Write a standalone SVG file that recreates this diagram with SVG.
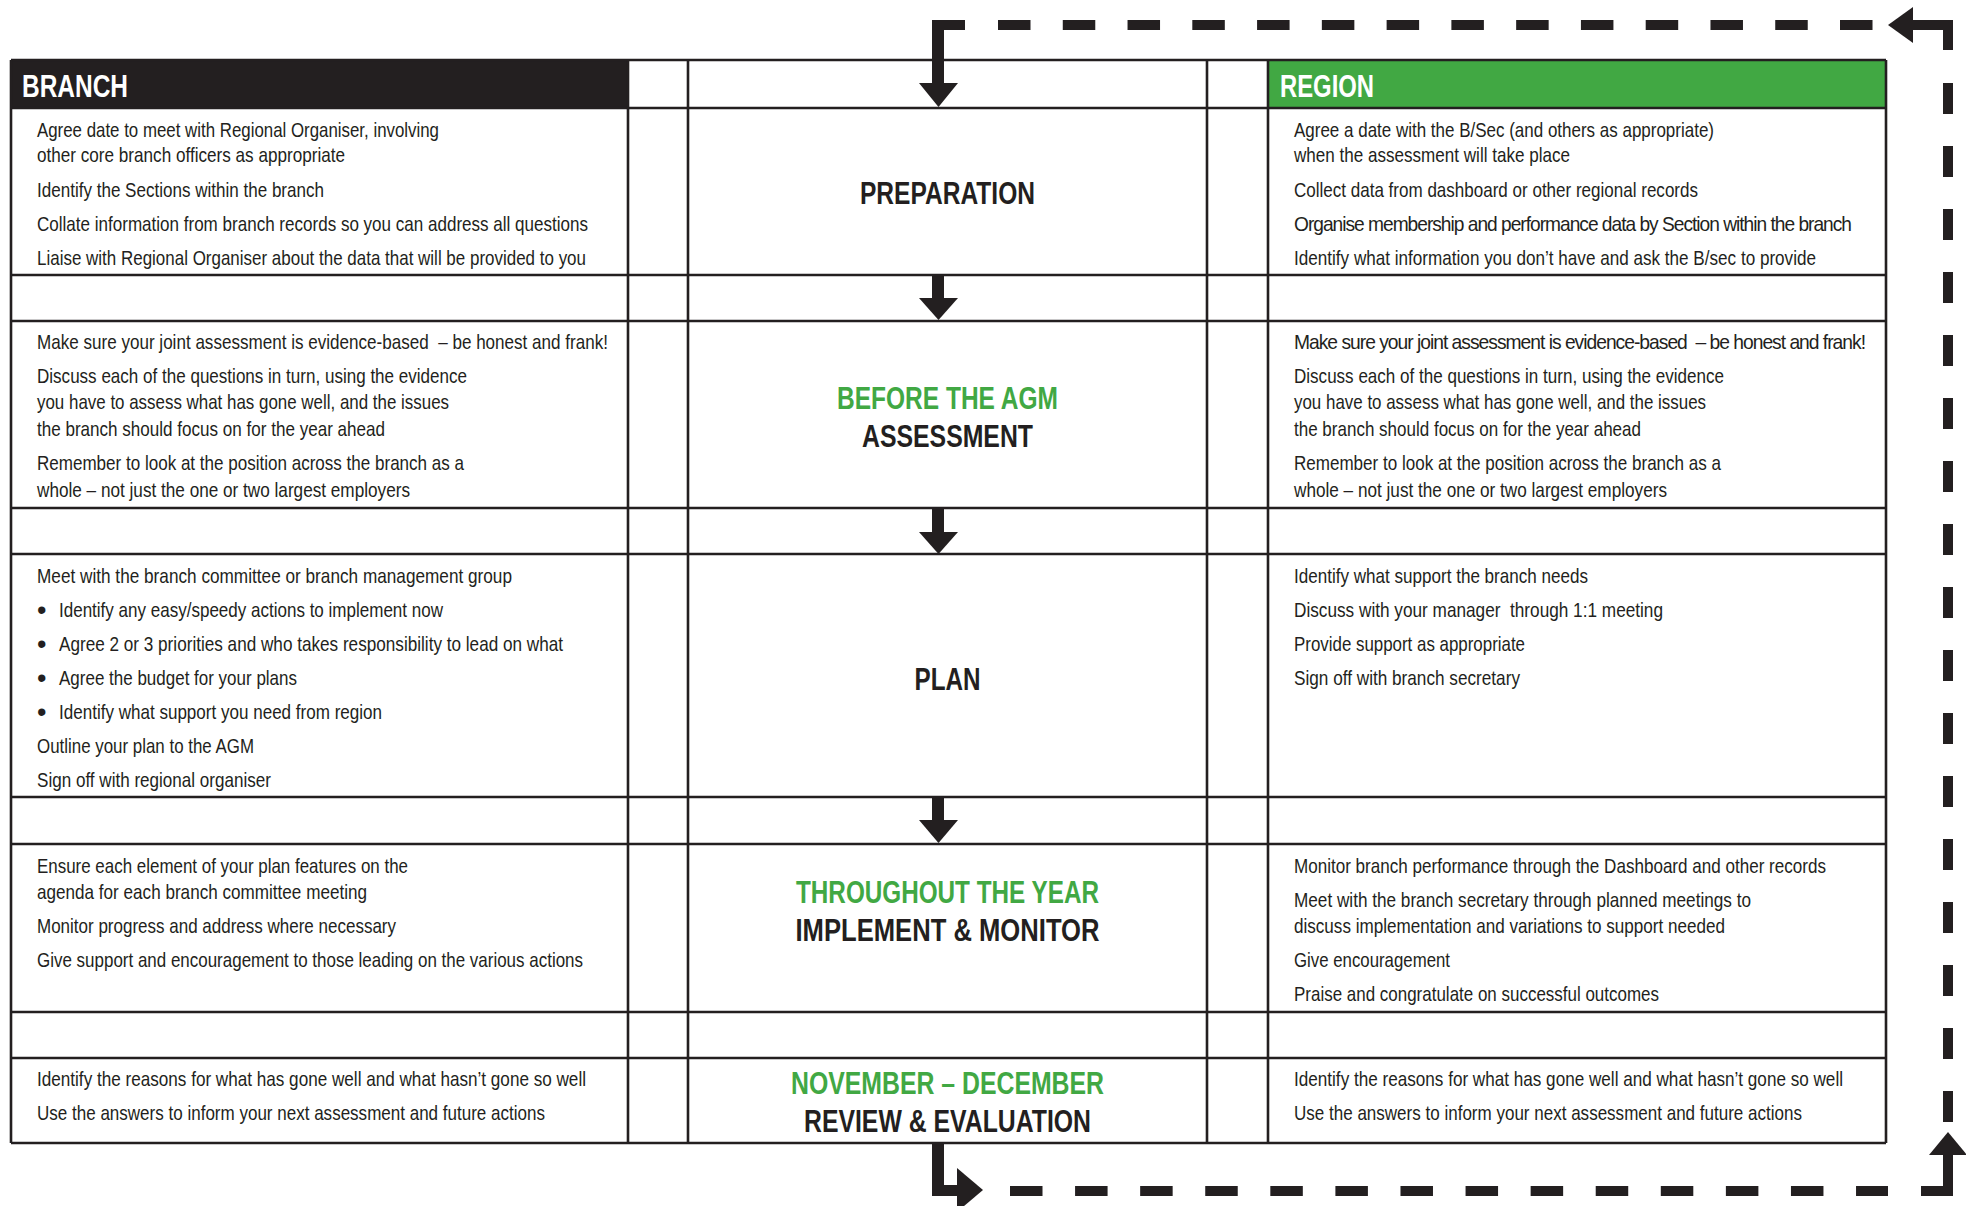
<svg xmlns="http://www.w3.org/2000/svg" width="1966" height="1206" viewBox="0 0 1966 1206">
<style>
.b{font-family:"Liberation Sans",Arial,sans-serif;font-size:21px;fill:#231f20}
.n{letter-spacing:-1.1px}
.u{font-family:"Liberation Sans",Arial,sans-serif;font-size:27px;fill:#231f20}
.t{font-family:"Liberation Sans",Arial,sans-serif;font-size:31px;font-weight:bold;fill:#231f20;text-anchor:middle}
.g{fill:#41a843}
.h{font-family:"Liberation Sans",Arial,sans-serif;font-size:32px;font-weight:bold;fill:#ffffff}
.grid line{stroke:#231f20;stroke-width:2.6}
.dash{stroke:#231f20;stroke-width:10;fill:none}
.ar{fill:#231f20}
</style>
<rect width="1966" height="1206" fill="#ffffff"/>

<g id="header-branch">
<rect x="11" y="60" width="617" height="48" fill="#231f20"/>
<text class="h" x="22" y="97" textLength="106" lengthAdjust="spacingAndGlyphs">BRANCH</text>
</g>
<g id="header-region">
<rect x="1268" y="60" width="618" height="48" fill="#41a843"/>
<text class="h" x="1280" y="97" textLength="94" lengthAdjust="spacingAndGlyphs">REGION</text>
</g>

<g id="grid" class="grid">
<line x1="11" y1="60" x2="1886" y2="60"/>
<line x1="11" y1="108" x2="1886" y2="108"/>
<line x1="11" y1="275" x2="1886" y2="275"/>
<line x1="11" y1="321" x2="1886" y2="321"/>
<line x1="11" y1="508" x2="1886" y2="508"/>
<line x1="11" y1="554" x2="1886" y2="554"/>
<line x1="11" y1="797" x2="1886" y2="797"/>
<line x1="11" y1="844" x2="1886" y2="844"/>
<line x1="11" y1="1012" x2="1886" y2="1012"/>
<line x1="11" y1="1058" x2="1886" y2="1058"/>
<line x1="11" y1="1143" x2="1886" y2="1143"/>
<line x1="11" y1="60" x2="11" y2="1143"/>
<line x1="628" y1="60" x2="628" y2="1143"/>
<line x1="688" y1="60" x2="688" y2="1143"/>
<line x1="1207" y1="60" x2="1207" y2="1143"/>
<line x1="1268" y1="60" x2="1268" y2="1143"/>
<line x1="1886" y1="60" x2="1886" y2="1143"/>
</g>

<g id="prep-branch">
<text class="b" x="37" y="137" textLength="402" lengthAdjust="spacingAndGlyphs">Agree date to meet with Regional Organiser, involving</text>
<text class="b" x="37" y="162" textLength="308" lengthAdjust="spacingAndGlyphs">other core branch officers as appropriate</text>
<text class="b" x="37" y="197" textLength="287" lengthAdjust="spacingAndGlyphs">Identify the Sections within the branch</text>
<text class="b" x="37" y="231" textLength="551" lengthAdjust="spacingAndGlyphs">Collate information from branch records so you can address all questions</text>
<text class="b" x="37" y="265" textLength="549" lengthAdjust="spacingAndGlyphs">Liaise with Regional Organiser about the data that will be provided to you</text>
</g>
<g id="prep-stage">
<text class="t" x="947.5" y="204" textLength="175" lengthAdjust="spacingAndGlyphs">PREPARATION</text>
</g>
<g id="prep-region">
<text class="b" x="1294" y="137" textLength="420" lengthAdjust="spacingAndGlyphs">Agree a date with the B/Sec (and others as appropriate)</text>
<text class="b" x="1294" y="162" textLength="276" lengthAdjust="spacingAndGlyphs">when the assessment will take place</text>
<text class="b" x="1294" y="197" textLength="404" lengthAdjust="spacingAndGlyphs">Collect data from dashboard or other regional records</text>
<text class="b n" x="1294" y="231" textLength="557" lengthAdjust="spacingAndGlyphs">Organise membership and performance data by Section within the branch</text>
<text class="b" x="1294" y="265" textLength="522" lengthAdjust="spacingAndGlyphs">Identify what information you don’t have and ask the B/sec to provide</text>
</g>

<g id="assess-branch">
<text class="b" x="37" y="349" textLength="571" lengthAdjust="spacingAndGlyphs" xml:space="preserve">Make sure your joint assessment is evidence-based  – be honest and frank!</text>
<text class="b" x="37" y="383" textLength="430" lengthAdjust="spacingAndGlyphs">Discuss each of the questions in turn, using the evidence</text>
<text class="b" x="37" y="409" textLength="412" lengthAdjust="spacingAndGlyphs">you have to assess what has gone well, and the issues</text>
<text class="b" x="37" y="436" textLength="348" lengthAdjust="spacingAndGlyphs">the branch should focus on for the year ahead</text>
<text class="b" x="37" y="470" textLength="427" lengthAdjust="spacingAndGlyphs">Remember to look at the position across the branch as a</text>
<text class="b" x="37" y="497" textLength="373" lengthAdjust="spacingAndGlyphs">whole – not just the one or two largest employers</text>
</g>
<g id="assess-stage">
<text class="t g" x="947.5" y="409" textLength="221" lengthAdjust="spacingAndGlyphs">BEFORE THE AGM</text>
<text class="t" x="947.5" y="447" textLength="171" lengthAdjust="spacingAndGlyphs">ASSESSMENT</text>
</g>
<g id="assess-region">
<text class="b n" x="1294" y="349" textLength="571" lengthAdjust="spacingAndGlyphs" xml:space="preserve">Make sure your joint assessment is evidence-based  – be honest and frank!</text>
<text class="b" x="1294" y="383" textLength="430" lengthAdjust="spacingAndGlyphs">Discuss each of the questions in turn, using the evidence</text>
<text class="b" x="1294" y="409" textLength="412" lengthAdjust="spacingAndGlyphs">you have to assess what has gone well, and the issues</text>
<text class="b" x="1294" y="436" textLength="347" lengthAdjust="spacingAndGlyphs">the branch should focus on for the year ahead</text>
<text class="b" x="1294" y="470" textLength="427" lengthAdjust="spacingAndGlyphs">Remember to look at the position across the branch as a</text>
<text class="b" x="1294" y="497" textLength="373" lengthAdjust="spacingAndGlyphs">whole – not just the one or two largest employers</text>
</g>

<g id="plan-branch">
<text class="b" x="37" y="583" textLength="475" lengthAdjust="spacingAndGlyphs">Meet with the branch committee or branch management group</text>
<text class="u" x="37" y="619">•</text>
<text class="b" x="59" y="617" textLength="384" lengthAdjust="spacingAndGlyphs">Identify any easy/speedy actions to implement now</text>
<text class="u" x="37" y="653">•</text>
<text class="b" x="59" y="651" textLength="504" lengthAdjust="spacingAndGlyphs">Agree 2 or 3 priorities and who takes responsibility to lead on what</text>
<text class="u" x="37" y="687">•</text>
<text class="b" x="59" y="685" textLength="238" lengthAdjust="spacingAndGlyphs">Agree the budget for your plans</text>
<text class="u" x="37" y="721">•</text>
<text class="b" x="59" y="719" textLength="323" lengthAdjust="spacingAndGlyphs">Identify what support you need from region</text>
<text class="b" x="37" y="753" textLength="217" lengthAdjust="spacingAndGlyphs">Outline your plan to the AGM</text>
<text class="b" x="37" y="787" textLength="234" lengthAdjust="spacingAndGlyphs">Sign off with regional organiser</text>
</g>
<g id="plan-stage">
<text class="t" x="947.5" y="690" textLength="66" lengthAdjust="spacingAndGlyphs">PLAN</text>
</g>
<g id="plan-region">
<text class="b" x="1294" y="583" textLength="294" lengthAdjust="spacingAndGlyphs">Identify what support the branch needs</text>
<text class="b" x="1294" y="617" textLength="369" lengthAdjust="spacingAndGlyphs" xml:space="preserve">Discuss with your manager  through 1:1 meeting</text>
<text class="b" x="1294" y="651" textLength="231" lengthAdjust="spacingAndGlyphs">Provide support as appropriate</text>
<text class="b" x="1294" y="685" textLength="226" lengthAdjust="spacingAndGlyphs">Sign off with branch secretary</text>
</g>

<g id="implement-branch">
<text class="b" x="37" y="873" textLength="371" lengthAdjust="spacingAndGlyphs">Ensure each element of your plan features on the</text>
<text class="b" x="37" y="899" textLength="330" lengthAdjust="spacingAndGlyphs">agenda for each branch committee meeting</text>
<text class="b" x="37" y="933" textLength="359" lengthAdjust="spacingAndGlyphs">Monitor progress and address where necessary</text>
<text class="b" x="37" y="967" textLength="546" lengthAdjust="spacingAndGlyphs">Give support and encouragement to those leading on the various actions</text>
</g>
<g id="implement-stage">
<text class="t g" x="947.5" y="903" textLength="303" lengthAdjust="spacingAndGlyphs">THROUGHOUT THE YEAR</text>
<text class="t" x="947.5" y="941" textLength="304" lengthAdjust="spacingAndGlyphs">IMPLEMENT &amp; MONITOR</text>
</g>
<g id="implement-region">
<text class="b" x="1294" y="873" textLength="532" lengthAdjust="spacingAndGlyphs">Monitor branch performance through the Dashboard and other records</text>
<text class="b" x="1294" y="907" textLength="457" lengthAdjust="spacingAndGlyphs">Meet with the branch secretary through planned meetings to</text>
<text class="b" x="1294" y="933" textLength="431" lengthAdjust="spacingAndGlyphs">discuss implementation and variations to support needed</text>
<text class="b" x="1294" y="967" textLength="156" lengthAdjust="spacingAndGlyphs">Give encouragement</text>
<text class="b" x="1294" y="1001" textLength="365" lengthAdjust="spacingAndGlyphs">Praise and congratulate on successful outcomes</text>
</g>

<g id="review-branch">
<text class="b" x="37" y="1086" textLength="549" lengthAdjust="spacingAndGlyphs">Identify the reasons for what has gone well and what hasn’t gone so well</text>
<text class="b" x="37" y="1120" textLength="508" lengthAdjust="spacingAndGlyphs">Use the answers to inform your next assessment and future actions</text>
</g>
<g id="review-stage">
<text class="t g" x="947.5" y="1094" textLength="313" lengthAdjust="spacingAndGlyphs">NOVEMBER – DECEMBER</text>
<text class="t" x="947.5" y="1132" textLength="287" lengthAdjust="spacingAndGlyphs">REVIEW &amp; EVALUATION</text>
</g>
<g id="review-region">
<text class="b" x="1294" y="1086" textLength="549" lengthAdjust="spacingAndGlyphs">Identify the reasons for what has gone well and what hasn’t gone so well</text>
<text class="b" x="1294" y="1120" textLength="508" lengthAdjust="spacingAndGlyphs">Use the answers to inform your next assessment and future actions</text>
</g>

<g id="connectors">
<rect class="ar" x="932" y="276" width="12" height="23"/>
<polygon class="ar" points="919,298 958,298 938.5,320"/>
<rect class="ar" x="932" y="509" width="12" height="24"/>
<polygon class="ar" points="919,532 958,532 938.5,554"/>
<rect class="ar" x="932" y="798" width="12" height="23"/>
<polygon class="ar" points="919,820 958,820 938.5,843"/>

<polygon class="ar" points="932,20 965,20 965,30 944,30 944,83 958,83 938.5,107 919,83 932,83"/>
<line class="dash" x1="998" y1="25" x2="1873" y2="25" stroke-dasharray="32.5 32.27"/>
<polygon class="ar" points="1888,25 1913,7 1913,43"/>
<rect class="ar" x="1912" y="20" width="41" height="10"/>
<rect class="ar" x="1943" y="20" width="10" height="30"/>
<line class="dash" x1="1948" y1="83" x2="1948" y2="1122" stroke-dasharray="31 32"/>
<polygon class="ar" points="1948,1132 1967,1155 1929,1155"/>
<rect class="ar" x="1943" y="1154" width="10" height="42"/>
<rect class="ar" x="1921" y="1186" width="32" height="10"/>
<line class="dash" x1="1010" y1="1191" x2="1888" y2="1191" stroke-dasharray="32.5 32.58"/>
<rect class="ar" x="932" y="1143" width="12" height="53"/>
<rect class="ar" x="932" y="1185" width="26" height="11"/>
<polygon class="ar" points="957,1168 983,1190 957,1212"/>
</g>
</svg>
